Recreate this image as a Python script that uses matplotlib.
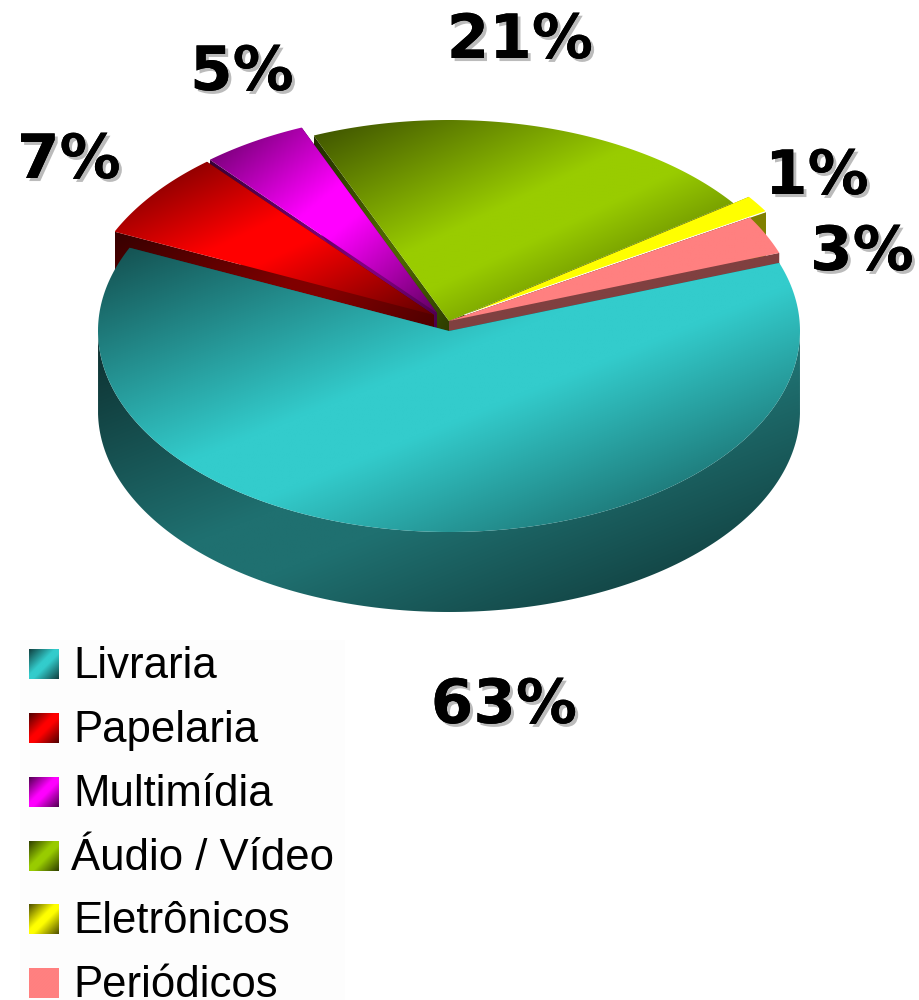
"""Exploded 3D pie of sales share, drawn by hand on a pixel-sized axes."""

import numpy as np
import matplotlib
matplotlib.use("Agg")
import matplotlib.pyplot as plt
import matplotlib.patheffects as pe
from matplotlib.colors import to_rgb
from matplotlib.patches import Polygon

CATEGORIES = ["Livraria", "Papelaria", "Multimídia", "Áudio / Vídeo", "Eletrônicos", "Periódicos"]
VALUES = [62.3, 7.0, 4.9, 21.3, 1.4, 3.1]
LABELS = ["63%", "7%", "5%", "21%", "1%", "3%"]
TOP_COLORS = ["#33cccc", "#ff0000", "#ff00ff", "#99cc00", "#ffff00", "#ff8080"]
WALL_COLORS = ["#1f7070", "#800000", "#800080", "#4d6600", "#808000", "#804040"]

# layout, in pixels of the reference
CX, CY = 449, 321
RX, RY = 351, 201
DEPTH = 80
START_ANGLE = 19.8
OFFSETS = [(0, 10), (-15, -6), (-12, -8), (0, 0), (16, -6), (0, 0)]
# far slices first, so the nearer ones cover their walls
DRAW_ORDER = [3, 2, 1, 4, 5, 0]
LABEL_BASE = [(504, 723), (69, 178), (242, 90), (520, 58), (817, 194), (862, 270)]
DARK = [0.38, 0.38, 0.38, 0.38, 1.0, 1.0]

fig = plt.figure(figsize=(9.19, 10), dpi=100)
ax = fig.add_axes([0, 0, 1, 1])


def gradient(poly, color, dark, zorder):
    # dark corners, bright diagonal band, same look as the old chart engine
    x0, y0 = poly.min(axis=0)
    x1, y1 = poly.max(axis=0)
    gx, gy = np.meshgrid(np.linspace(0, 1, 200), np.linspace(0, 1, 200))
    d = np.clip((np.abs(gx + gy - 1) - 0.12) / 0.88, 0, 1)
    shade = 1 - d * (1 - dark)
    img = np.clip(shade[..., None] * np.array(to_rgb(color)), 0, 1)
    im = ax.imshow(img, extent=(x0, x1, y1, y0), aspect="auto", zorder=zorder, interpolation="bilinear")
    im.set_clip_path(Polygon(poly, closed=True, transform=ax.transData))


def draw_slice(i, a0, a1, zorder):
    ox, oy = OFFSETS[i]
    apex = np.array([CX + ox, CY + oy], dtype=float)
    t = np.radians(np.linspace(a0, a1, 240))
    arc = np.column_stack([apex[0] + RX * np.cos(t), apex[1] - RY * np.sin(t)])
    down = np.array([0, DEPTH])
    wall_dark = 1.0 if i in (4, 5) else 0.42
    # outer skin only shows on the front half of the ellipse
    front = arc[np.sin(t) <= 0]
    if len(front) > 1:
        gradient(np.vstack([front, front[::-1] + down]), WALL_COLORS[i], wall_dark, zorder)
    for end in (arc[0], arc[-1]):
        face = np.array([apex, end, end + down, apex + down])
        gradient(face, WALL_COLORS[i], wall_dark, zorder)
    top = np.vstack([apex, arc])
    gradient(top, TOP_COLORS[i], DARK[i], zorder + 0.5)
    return apex, arc


# slices go clockwise from the start angle
sweeps = np.array(VALUES) / sum(VALUES) * 360
ends = START_ANGLE - np.cumsum(sweeps)
starts = ends + sweeps
for order, i in enumerate(DRAW_ORDER):
    apex, arc = draw_slice(i, starts[i], ends[i], order + 1)
    if CATEGORIES[i] == "Eletrônicos":
        # hairline between this slice and the one behind it
        ax.plot([apex[0], arc[-1][0]], [apex[1], arc[-1][1]], color="white", lw=0.9, zorder=order + 1.6)

# faint legend panel
ax.add_patch(plt.Rectangle((20, 640), 325, 360, facecolor="#fdfdfd", edgecolor="none", zorder=0))

legend_y = [664, 728, 792, 856, 919, 983]
for name, color, y in zip(CATEGORIES, TOP_COLORS, legend_y):
    x0, y0 = 29, y - 15
    swatch = np.array([[x0, y0], [x0 + 30, y0], [x0 + 30, y0 + 30], [x0, y0 + 30]], dtype=float)
    gradient(swatch, color, 1.0 if name == "Periódicos" else 0.3, 10)
    tx = 71 if name.startswith("Á") else 73
    ax.text(tx, y + 14, name, fontsize=31.5, family="Liberation Sans", color="black", ha="left", va="baseline", zorder=11)

shadow = [pe.withSimplePatchShadow(offset=(2.2, -2.2), shadow_rgbFace="#aaaaaa", alpha=0.8), pe.Normal()]
for label, (x, y) in zip(LABELS, LABEL_BASE):
    ax.text(x, y, label, fontsize=44, family="DejaVu Sans", weight="bold", color="black",
            ha="center", va="baseline", path_effects=shadow, zorder=12)

ax.set_xlim(0, 919)
ax.set_ylim(1000, 0)
ax.axis("off")
fig.savefig("out.png", dpi=100, facecolor="white")
